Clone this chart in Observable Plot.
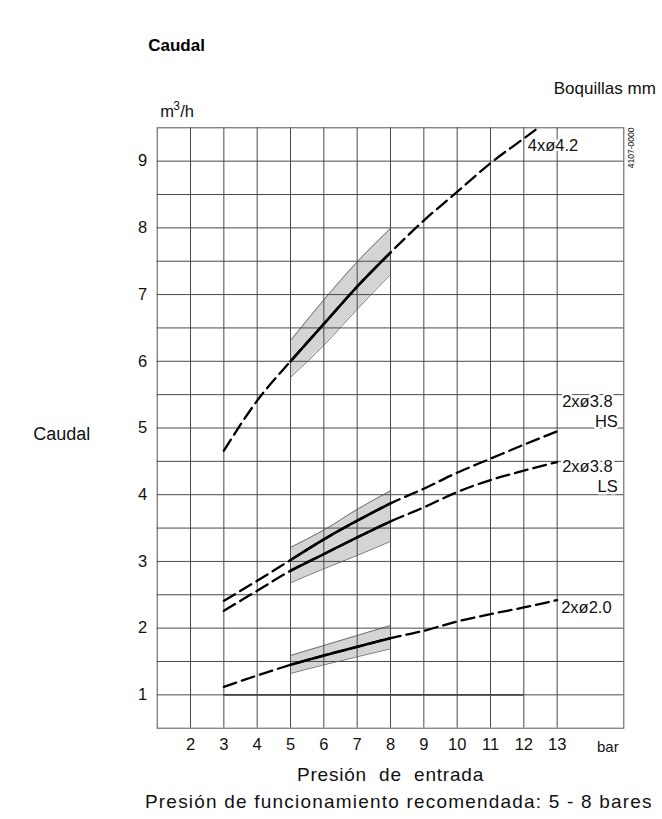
<!DOCTYPE html>
<html>
<head>
<meta charset="utf-8">
<script src="https://cdn.jsdelivr.net/npm/d3@7"></script>
<script src="https://cdn.jsdelivr.net/npm/@observablehq/plot@0.6"></script>
<style>
  html, body { margin: 0; padding: 0; background: #fff; }
  #chart svg { display: block; }
</style>
</head>
<body>
<div id="chart"></div>
<script>
// ---- data ----
const pressure = [3, 4, 5, 6, 7, 8, 9, 10, 11, 12, 13];
const pressure42 = [3, 4, 5, 6, 7, 8, 9, 10, 11, 12, 12.35];
const flow42 = [4.66, 5.41, 6.00, 6.56, 7.12, 7.63, 8.11, 8.54, 8.97, 9.34, 9.47];
const flow38HS = [2.41, 2.71, 3.02, 3.33, 3.61, 3.87, 4.09, 4.33, 4.54, 4.75, 4.95];
const flow38LS = [2.26, 2.56, 2.86, 3.11, 3.36, 3.60, 3.81, 4.04, 4.22, 4.36, 4.49];
const flow20 = [1.12, 1.29, 1.45, 1.59, 1.72, 1.85, 1.96, 2.10, 2.21, 2.31, 2.42];

const bandPressure = [5, 6, 7, 8];
const band42Lo = [5.76, 6.24, 6.78, 7.30];
const band42Hi = [6.31, 6.92, 7.49, 7.99];
const band38Lo = [2.68, 2.89, 3.09, 3.30];
const band38Hi = [3.21, 3.47, 3.78, 4.06];
const band20Lo = [1.32, 1.45, 1.57, 1.69];
const band20Hi = [1.59, 1.74, 1.89, 2.04];

const recommendedRange = [5, 8];
const xTicks = [2, 3, 4, 5, 6, 7, 8, 9, 10, 11, 12, 13];
const yTicks = [1, 2, 3, 4, 5, 6, 7, 8, 9];
const xGrid = [2, 3, 4, 5, 6, 7, 8, 9, 10, 11, 12, 13];
const yGrid = [1, 1.5, 2, 2.5, 3, 3.5, 4, 4.5, 5, 5.5, 6, 6.5, 7, 7.5, 8, 8.5, 9];

const seriesNames = ["4xø4.2", "2xø3.8 HS", "2xø3.8 LS", "2xø2.0"];
// curve labels: first lines (left-aligned) and suffix lines (right-aligned)
const labelMain = ["4xø4.2", "2xø3.8", "2xø3.8", "2xø2.0"];
const labelMainX = [12.12, 13.15, 13.15, 13.12];
const labelMainY = [9.23, 5.40, 4.42, 2.30];
const labelSuffix = ["HS", "LS"];
const labelSuffixX = [14.82, 14.82];
const labelSuffixY = [5.10, 4.12];

// ---- tables ----
const curves = [];
pressure42.forEach((p, i) => curves.push({series: seriesNames[0], p, q: flow42[i]}));
pressure.forEach((p, i) => curves.push({series: seriesNames[1], p, q: flow38HS[i]}));
pressure.forEach((p, i) => curves.push({series: seriesNames[2], p, q: flow38LS[i]}));
pressure.forEach((p, i) => curves.push({series: seriesNames[3], p, q: flow20[i]}));
const solid = curves.filter(d => d.p >= recommendedRange[0] && d.p <= recommendedRange[1]);

const bands = [];
bandPressure.forEach((p, i) => bands.push({band: "42", p, lo: band42Lo[i], hi: band42Hi[i]}));
bandPressure.forEach((p, i) => bands.push({band: "38", p, lo: band38Lo[i], hi: band38Hi[i]}));
bandPressure.forEach((p, i) => bands.push({band: "20", p, lo: band20Lo[i], hi: band20Hi[i]}));

const mainLabels = labelMain.map((t, i) => ({t, x: labelMainX[i], y: labelMainY[i]}));
const suffixLabels = labelSuffix.map((t, i) => ({t, x: labelSuffixX[i], y: labelSuffixY[i]}));

const font = "'Liberation Sans', Arial, Helvetica, sans-serif";
const halo = {fill: "#111", stroke: "#fff", strokeWidth: 5, paintOrder: "stroke", fontSize: 16.5, lineAnchor: "middle"};

const chart = Plot.plot({
  width: 662,
  height: 819,
  marginLeft: 156.7,
  marginRight: 38.7,
  marginTop: 127.3,
  marginBottom: 91.3,
  style: {fontFamily: font, fontSize: "16px", color: "#111", background: "#fff"},
  x: {domain: [1, 15]},
  y: {domain: [0.5, 9.5]},
  marks: [
    Plot.areaY(bands, {x: "p", y1: "lo", y2: "hi", z: "band", fill: "#d4d4d4", curve: "monotone-x"}),
    Plot.line(bands, {x: "p", y: "lo", z: "band", stroke: "#555", strokeWidth: 0.8, curve: "monotone-x"}),
    Plot.line(bands, {x: "p", y: "hi", z: "band", stroke: "#555", strokeWidth: 0.8, curve: "monotone-x"}),
    Plot.ruleX(xGrid, {stroke: "#4a4a4a", strokeWidth: 1}),
    Plot.ruleY(yGrid, {stroke: "#4a4a4a", strokeWidth: 1}),
    Plot.ruleY([1], {x1: 3, x2: 12, stroke: "#444", strokeWidth: 1.8}),
    Plot.frame({stroke: "#555", strokeWidth: 1}),
    Plot.text(mainLabels, {x: "x", y: "y", text: "t", textAnchor: "start", ...halo}),
    Plot.text(suffixLabels, {x: "x", y: "y", text: "t", textAnchor: "end", ...halo}),
    Plot.line(curves, {x: "p", y: "q", z: "series", stroke: "#000", strokeWidth: 2.3,
      strokeDasharray: "13,6", curve: "monotone-x"}),
    Plot.line(solid, {x: "p", y: "q", z: "series", stroke: "#000", strokeWidth: 2.6, curve: "monotone-x"}),
    Plot.axisX(xTicks, {tickSize: 0, tickPadding: 10, fontSize: 16.5, label: null, tickFormat: "d"}),
    Plot.axisY(yTicks, {tickSize: 0, tickPadding: 10, fontSize: 16.5, label: null, tickFormat: "d"}),
    // annotations
    Plot.text(["Caudal"], {frameAnchor: "top-left", dx: -9, dy: -82, textAnchor: "start", lineAnchor: "middle", fontSize: 17, fontWeight: 600, fill: "#000"}),
    Plot.text(["Boquillas mm"], {frameAnchor: "top-right", dx: 32, dy: -39, textAnchor: "end", lineAnchor: "middle", fontSize: 17}),
    Plot.text(["m"], {frameAnchor: "top-left", dx: 3, dy: -16, textAnchor: "start", lineAnchor: "middle", fontSize: 16.5}),
    Plot.text(["3"], {frameAnchor: "top-left", dx: 16, dy: -22, textAnchor: "start", lineAnchor: "middle", fontSize: 12}),
    Plot.text(["/h"], {frameAnchor: "top-left", dx: 23, dy: -16, textAnchor: "start", lineAnchor: "middle", fontSize: 16.5}),
    Plot.text(["4107-0000"], {frameAnchor: "top-right", dx: 7, dy: 20, rotate: -90, textAnchor: "middle", lineAnchor: "middle", fontSize: 8.5}),
    Plot.text(["Caudal"], {frameAnchor: "left", dx: -124, dy: 6, textAnchor: "start", lineAnchor: "middle", fontSize: 18}),
    Plot.text(["bar"], {frameAnchor: "bottom-right", dx: -16, dy: 19, textAnchor: "middle", lineAnchor: "middle", fontSize: 15}),
    Plot.text(["Presión  de  entrada"], {frameAnchor: "bottom", dx: 0, dy: 47, textAnchor: "middle", lineAnchor: "middle", fontSize: 19}),
    Plot.text(["Presión de funcionamiento recomendada: 5 - 8 bares"], {frameAnchor: "bottom-right", dx: 29, dy: 74, textAnchor: "end", lineAnchor: "middle", fontSize: 19})
  ]
});
// spacing like the reference typesetting
d3.select(chart).selectAll("text").filter(function() { return this.textContent.startsWith("Presión de f"); }).attr("letter-spacing", "1.2px");
d3.select(chart).selectAll("text").filter(function() { return this.textContent.startsWith("Presión  de"); }).attr("letter-spacing", "0.8px");
document.getElementById("chart").appendChild(chart);
</script>
</body>
</html>
